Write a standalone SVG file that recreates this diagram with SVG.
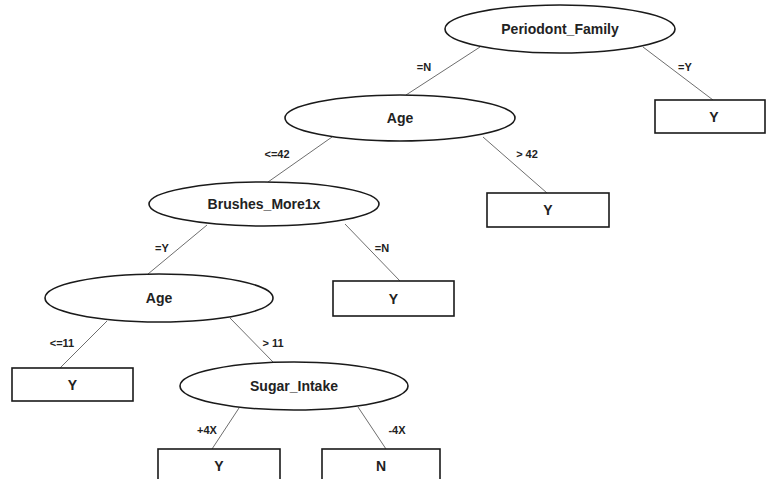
<svg xmlns="http://www.w3.org/2000/svg" width="766" height="479" viewBox="0 0 766 479">
  <style>
    .split { fill: #ffffff; stroke: #1a1a1a; stroke-width: 1.6; }
    .leaf { fill: #ffffff; stroke: #1a1a1a; stroke-width: 1.6; }
    .name { font-family: "Liberation Sans", Arial, sans-serif; font-weight: bold; font-size: 14px; fill: #222222; text-anchor: middle; dominant-baseline: central; }
    .edge { stroke: #6e6e6e; stroke-width: 1; fill: none; }
    .cond { font-family: "Liberation Sans", Arial, sans-serif; font-weight: bold; font-size: 11px; fill: #222222; text-anchor: middle; dominant-baseline: central; }
  </style>
  <rect width="766" height="479" fill="#ffffff"/>

  <!-- branches with their conditions -->
  <g id="connectors">
    <line class="edge" x1="480" y1="47" x2="406" y2="95"/>
    <text class="cond" x="424" y="67">=N</text>
    <line class="edge" x1="643" y1="47" x2="713" y2="100"/>
    <text class="cond" x="685" y="67">=Y</text>

    <line class="edge" x1="332" y1="137" x2="268" y2="182"/>
    <text class="cond" x="277" y="154">&lt;=42</text>
    <line class="edge" x1="483" y1="137" x2="547" y2="193"/>
    <text class="cond" x="527" y="154">&gt; 42</text>

    <line class="edge" x1="207" y1="225" x2="148" y2="274"/>
    <text class="cond" x="162" y="248">=Y</text>
    <line class="edge" x1="345" y1="224" x2="400" y2="281"/>
    <text class="cond" x="382" y="248">=N</text>

    <line class="edge" x1="107" y1="321" x2="60" y2="368"/>
    <text class="cond" x="62" y="343">&lt;=11</text>
    <line class="edge" x1="230" y1="318" x2="273" y2="362"/>
    <text class="cond" x="273" y="343">&gt; 11</text>

    <line class="edge" x1="239" y1="408" x2="212" y2="449"/>
    <text class="cond" x="207" y="430">+4X</text>
    <line class="edge" x1="358" y1="407" x2="386" y2="449"/>
    <text class="cond" x="397" y="430">-4X</text>
  </g>

  <!-- decision nodes -->
  <g id="periodont-family">
    <ellipse class="split" cx="560" cy="29" rx="115" ry="24"/>
    <text class="name" x="560" y="29">Periodont_Family</text>
  </g>
  <g id="age-42">
    <ellipse class="split" cx="400" cy="118" rx="115" ry="23"/>
    <text class="name" x="400" y="118">Age</text>
  </g>
  <g id="brushes-more1x">
    <ellipse class="split" cx="264" cy="204" rx="115" ry="22"/>
    <text class="name" x="264" y="204">Brushes_More1x</text>
  </g>
  <g id="age-11">
    <ellipse class="split" cx="159" cy="298" rx="114" ry="24"/>
    <text class="name" x="159" y="298">Age</text>
  </g>
  <g id="sugar-intake">
    <ellipse class="split" cx="294" cy="386" rx="114" ry="24"/>
    <text class="name" x="294" y="386">Sugar_Intake</text>
  </g>

  <!-- outcome leaves -->
  <g id="leaf-family-y">
    <rect class="leaf" x="655" y="100" width="110" height="33"/>
    <text class="name" x="714" y="116.5">Y</text>
  </g>
  <g id="leaf-age-over-42">
    <rect class="leaf" x="487" y="193" width="122" height="34"/>
    <text class="name" x="548" y="210">Y</text>
  </g>
  <g id="leaf-brushes-n">
    <rect class="leaf" x="333" y="281" width="121" height="35"/>
    <text class="name" x="393.5" y="298.5">Y</text>
  </g>
  <g id="leaf-age-under-11">
    <rect class="leaf" x="12" y="368" width="121" height="33"/>
    <text class="name" x="72.5" y="384.5">Y</text>
  </g>
  <g id="leaf-sugar-plus">
    <rect class="leaf" x="158" y="449" width="122" height="34"/>
    <text class="name" x="219" y="466">Y</text>
  </g>
  <g id="leaf-sugar-minus">
    <rect class="leaf" x="322" y="449" width="118" height="34"/>
    <text class="name" x="381" y="466">N</text>
  </g>
</svg>
